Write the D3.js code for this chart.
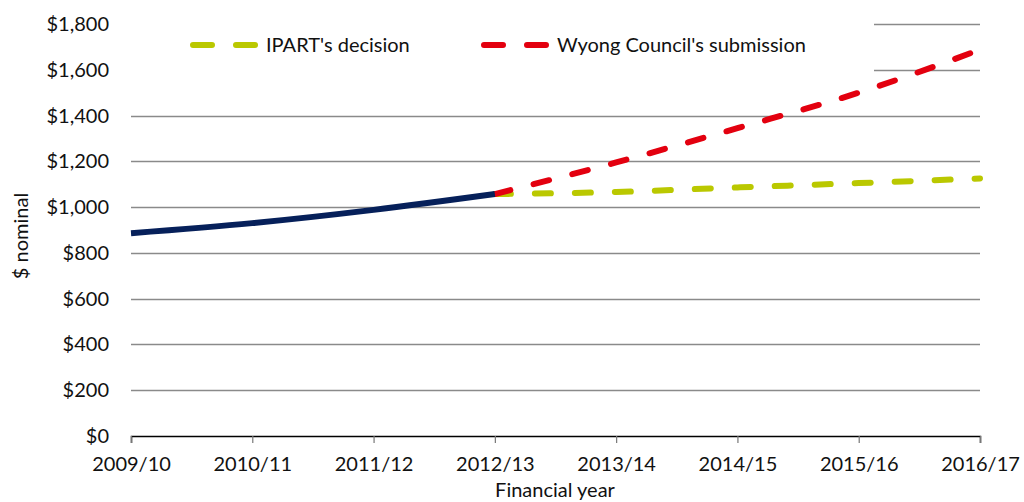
<!DOCTYPE html>
<html>
<head>
<meta charset="utf-8">
<script src="https://cdn.jsdelivr.net/npm/d3@7"></script>
<style>
  body { margin: 0; background: #fff; }
  svg text { font-family: Lato, "Open Sans", sans-serif; fill: #111; }
</style>
</head>
<body>
<div id="chart"></div>
<script>
// Data
const years = ['2009/10', '2010/11', '2011/12', '2012/13', '2013/14', '2014/15', '2015/16', '2016/17'];
const actual = [886, 930, 988, 1057];
const ipart = [1057, 1066, 1086, 1105, 1125];
const wyong = [1057, 1195, 1345, 1500, 1688];
const yTicks = [0, 200, 400, 600, 800, 1000, 1200, 1400, 1600, 1800];
const seriesNames = ["IPART's decision", "Wyong Council's submission"];

const totalWidth = 1024, totalHeight = 502;
const margins = {top: 24, bottom: 66, left: 131, right: 44};
const width = totalWidth - margins.left - margins.right;
const height = totalHeight - margins.top - margins.bottom;

const colors = {actual: '#06205a', ipart: '#bac800', wyong: '#e3000f', grid: '#8a8a8a'};

const svg = d3.select('#chart').append('svg')
  .attr('width', totalWidth)
  .attr('height', totalHeight);

const g = svg.append('g')
  .attr('transform', 'translate(' + [margins.left, margins.top] + ')');

const x = d3.scalePoint().domain(years).range([0, width]);
const y = d3.scaleLinear().domain([0, 1800]).range([height, 0]);

// gridlines
g.append('g')
  .attr('class', 'grid')
  .selectAll('line')
  .data(yTicks.filter(d => d > 0))
  .enter()
  .append('line')
  .attr('x1', 0).attr('x2', width)
  .attr('y1', d => Math.round(y(d)) + 0.5).attr('y2', d => Math.round(y(d)) + 0.5)
  .style('stroke', colors.grid)
  .style('stroke-width', 1.3);

// y labels
g.append('g')
  .selectAll('text')
  .data(yTicks)
  .enter()
  .append('text')
  .attr('x', -22)
  .attr('y', d => y(d))
  .attr('dy', '0.35em')
  .attr('text-anchor', 'end')
  .style('font-size', '20px')
  .text(d => '$' + d3.format(',')(d));

// x axis
const xAxis = g.append('g')
  .attr('transform', 'translate(' + [0, height] + ')')
  .call(d3.axisBottom(x).tickSize(7).tickPadding(14));
xAxis.select('.domain').style('stroke', '#000').style('stroke-width', 1.5);
xAxis.selectAll('.tick line').style('stroke', '#777').style('stroke-width', 1.2);
xAxis.selectAll('.tick text')
  .style('font-size', '20px')
  .style('font-family', 'Lato, "Open Sans", sans-serif')
  .style('fill', '#111');

// axis titles
svg.append('text')
  .attr('transform', 'translate(' + [28, 236] + ') rotate(-90)')
  .attr('text-anchor', 'middle')
  .style('font-size', '20px')
  .text('$ nominal');

svg.append('text')
  .attr('x', 555)
  .attr('y', 497)
  .attr('text-anchor', 'middle')
  .style('font-size', '20px')
  .text('Financial year');

// lines
const line = d3.line()
  .x(d => x(d.year))
  .y(d => y(d.value))
  .curve(d3.curveMonotoneX);

const toPoints = (vals, start) => vals.map((v, i) => ({year: years[start + i], value: v}));

g.append('path')
  .datum(toPoints(ipart, 3))
  .attr('d', line)
  .style('fill', 'none')
  .style('stroke', colors.ipart)
  .style('stroke-width', 6)
  .style('stroke-linecap', 'round')
  .style('stroke-dasharray', '16,24');

g.append('path')
  .datum(toPoints(wyong, 3))
  .attr('d', line)
  .style('fill', 'none')
  .style('stroke', colors.wyong)
  .style('stroke-width', 6)
  .style('stroke-linecap', 'round')
  .style('stroke-dasharray', '16,24');

g.append('path')
  .datum(toPoints(actual, 0))
  .attr('d', line)
  .style('fill', 'none')
  .style('stroke', colors.actual)
  .style('stroke-width', 6);

// legend (white box over the top gridlines)
const legend = svg.append('g').attr('class', 'legend');
legend.append('rect')
  .attr('x', margins.left - 2)
  .attr('y', 0)
  .attr('width', 874 - margins.left + 2)
  .attr('height', 80)
  .style('fill', '#fff');

const legendItems = [
  {name: seriesNames[0], color: colors.ipart, x: 193},
  {name: seriesNames[1], color: colors.wyong, x: 484}
];
const item = legend.selectAll('g.item')
  .data(legendItems)
  .enter()
  .append('g')
  .attr('class', 'item')
  .attr('transform', d => 'translate(' + [d.x, 45] + ')');
item.append('line')
  .attr('x1', 0).attr('x2', 63)
  .attr('y1', 0).attr('y2', 0)
  .style('stroke', d => d.color)
  .style('stroke-width', 6)
  .style('stroke-linecap', 'round')
  .style('stroke-dasharray', '19,24');
item.append('text')
  .attr('x', 73)
  .attr('y', 0)
  .attr('dy', '0.35em')
  .style('font-size', '20px')
  .text(d => d.name);
</script>
</body>
</html>
